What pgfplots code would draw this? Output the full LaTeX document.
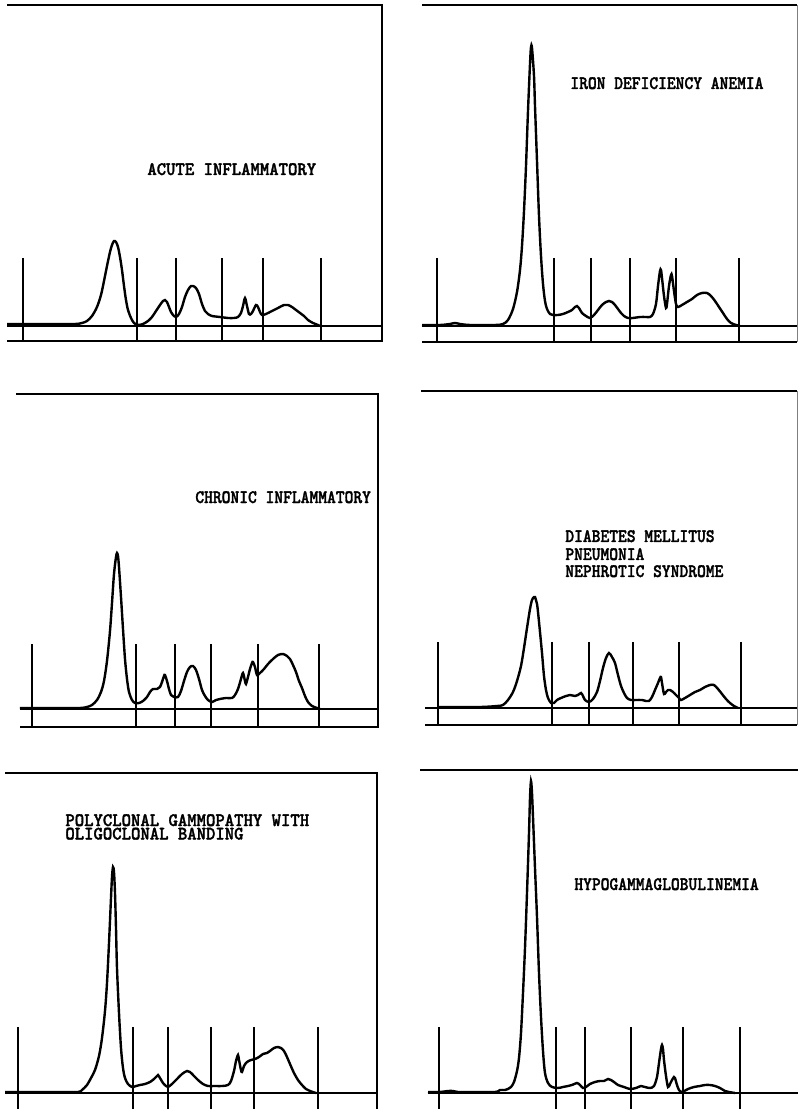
\documentclass[border=0pt]{standalone}
\usepackage{pgfplots}
\pgfplotsset{compat=1.18}
\usepackage{fontspec}
% typewriter captions, two pitches
\newfontfamily\typeA[FakeStretch=0.94, FakeBold=1.6]{lmmonolt10-bold.otf}
\newfontfamily\typeB[FakeStretch=0.88, FakeBold=1.6]{lmmonolt10-bold.otf}

\pgfplotsset{
  panel/.style={hide axis, x=0.5bp, y=0.5bp, clip=false, anchor=south west},
}
\tikzset{
  frame/.style={line width=0.9bp, black},
  trace/.style={line width=1.2bp, black, smooth, tension=0.5, mark=none},
  typed/.style={inner sep=0pt, anchor=base west, font=\fontsize{9.5bp}{9.5bp}\selectfont},
}

\begin{document}
\begin{tikzpicture}
\useasboundingbox (0,0) rectangle (399bp,554.5bp);

% ---------------- acute inflammatory ----------------
\begin{axis}[panel, at={(3.5bp,384bp)}, xmin=7, xmax=382, ymin=-15, ymax=321]
\addplot[trace] table {
7 2
50 2
75 2
82 3
87 5
92 10
97 19
101 31
104 45
107 60
110 74
112 81
114 85
116 84
118 79
120 69
122 56
124 40
126 26
128 16
131 8
134 3
138 1
143 2
148 5
152 9
156 15
160 21
163 25
165 26
167 24
169 19
171 14
173 11
176 9
179 12
182 19
185 29
188 36
191 40
193 40
196 38
199 32
202 22
205 15
208 12
212 10
220 9
228 8
234 8
238 9
241 13
243 20
245 28
247 20
249 12
251 12
253 15
256 21
258 19
260 14
262 11
266 12
272 15
278 18
284 21
288 21
292 19
296 16
300 13
304 10
308 6
313 3
318 1
320 0
};
\draw[frame] (axis cs:7,321) -- (axis cs:382,321) -- (axis cs:382,-15) -- (axis cs:7,-15);
\draw[frame] (axis cs:7,0) -- (axis cs:382,0);
\pgfplotsinvokeforeach{23,137,176,222,263,321}{\draw[frame] (axis cs:#1,68) -- (axis cs:#1,-15);}
\node[typed] at (axis cs:147,151) {\typeA ACUTE INFLAMMATORY};
\end{axis}

% ---------------- iron deficiency anemia ----------------
\begin{axis}[panel, at={(211bp,383.5bp)}, xmin=422, xmax=797, ymin=-16, ymax=321]
\addplot[trace] table {
422 1
440 1
450 2
455 3
460 2
470 1
495 1
503 2
508 6
513 17
517 34
520 56
522 80
524 115
526 160
528 215
530 262
531 279
532 278
534 250
535 220
537 165
539 110
541 70
543 42
545 25
547 17
550 12
553 11
558 11
563 12
568 14
572 16
575 19
577 20
579 18
582 13
586 10
590 8
594 11
598 16
602 21
606 24
609 25
612 24
615 21
618 17
621 13
624 10
628 8
633 8
640 9
646 9
650 9
653 12
656 22
658 40
660 55
661 56
662 48
664 30
666 18
667 22
669 40
671 51
672 50
674 35
676 22
678 19
682 21
687 24
692 27
697 31
702 33
707 33
711 30
715 25
719 19
723 13
727 7
731 3
736 1
740 0
};
\draw[frame] (axis cs:422,321) -- (axis cs:797,321);
\draw[frame, line width=0.5bp, gray] (axis cs:797,321) -- (axis cs:797,-16);
\draw[frame] (axis cs:422,-16) -- (axis cs:797,-16);
\draw[frame] (axis cs:422,0) -- (axis cs:797,0);
\pgfplotsinvokeforeach{437,554,591,630,676,739}{\draw[frame] (axis cs:#1,68) -- (axis cs:#1,-16);}
\node[typed] at (axis cs:570,237) {\typeB IRON DEFICIENCY ANEMIA};
\end{axis}

% ---------------- chronic inflammatory ----------------
\begin{axis}[panel, at={(8bp,191bp)}, xmin=16, xmax=378, ymin=-18, ymax=315]
\addplot[trace] table {
20 1
60 1
80 1
87 2
92 4
97 9
101 17
104 28
107 48
110 78
112 106
114 135
116 152
117 156
118 153
119 142
121 112
123 80
125 50
127 30
129 17
132 9
135 6
139 6
143 8
147 12
150 17
153 20
157 20
160 22
162 27
164 33
165 34
167 28
169 20
171 14
174 12
178 12
181 18
184 28
187 37
190 42
193 43
196 39
199 30
202 19
205 13
208 9
212 7
216 9
220 10
226 11
232 11
235 14
238 20
241 30
243 36
245 28
246 25
248 32
250 40
252 46
253 47
255 42
257 34
260 36
264 40
268 45
273 50
278 54
283 55
287 53
290 50
293 44
296 37
299 28
302 21
305 13
308 7
312 3
317 1
320 0
};
\draw[frame] (axis cs:16,315) -- (axis cs:378,315) -- (axis cs:378,-18) -- (axis cs:20,-18);
\draw[frame] (axis cs:20,0) -- (axis cs:378,0);
\pgfplotsinvokeforeach{32,136,175,211,258,319}{\draw[frame] (axis cs:#1,65) -- (axis cs:#1,-18);}
\node[typed] at (axis cs:195,206) {\typeB CHRONIC INFLAMMATORY};
\end{axis}

% ---------------- diabetes / pneumonia / nephrotic ----------------
\begin{axis}[panel, at={(210.5bp,192bp)}, xmin=421, xmax=797, ymin=-17, ymax=317]
\addplot[trace] table {
438 1
480 1
497 2
503 3
508 8
513 16
517 27
521 42
524 60
527 80
530 99
532 108
534 111
535 111
537 104
538 96
540 76
542 55
544 32
546 18
548 10
551 5
554 5
557 8
561 10
566 12
570 13
575 12
578 13
581 15
583 12
585 8
589 6
593 9
597 16
600 27
603 40
606 50
609 55
612 51
615 45
618 33
621 22
624 15
627 10
631 8
636 8
642 8
646 7
649 7
652 11
655 18
658 25
660 30
661 31
662 25
664 14
666 16
668 18
670 18
673 16
676 13
679 10
681 8
685 10
690 13
695 16
700 18
705 21
710 23
714 23
718 19
722 14
726 9
730 5
734 2
738 0
};
\draw[frame] (axis cs:421,317) -- (axis cs:797,317);
\draw[frame, line width=0.5bp, gray] (axis cs:797,317) -- (axis cs:797,-17);
\draw[frame] (axis cs:425,-17) -- (axis cs:797,-17);
\draw[frame] (axis cs:425,0) -- (axis cs:797,0);
\pgfplotsinvokeforeach{438,552,589,633,679,741}{\draw[frame] (axis cs:#1,66) -- (axis cs:#1,-17);}
\node[typed] at (axis cs:565,166) {\typeB DIABETES MELLITUS};
\node[typed] at (axis cs:565,148) {\typeB PNEUMONIA};
\node[typed] at (axis cs:565,131) {\typeB NEPHROTIC SYNDROME};
\end{axis}

% ---------------- polyclonal gammopathy ----------------
\begin{axis}[panel, at={(2.5bp,0bp)}, xmin=5, xmax=377, ymin=-16, ymax=320]
\addplot[trace] table {
5 1
60 1
78 1
82 3
87 8
91 15
95 23
99 37
102 55
105 82
107 110
109 150
111 195
112 216
113 226
114 221
115 200
116 165
117 125
119 80
121 45
123 25
125 15
128 9
132 6
136 7
140 8
145 9
150 11
154 14
157 17
158 18
160 15
163 10
166 7
168 6
172 9
177 14
182 19
187 22
190 21
194 17
198 13
203 9
208 7
214 7
222 7
228 8
231 12
234 22
236 32
238 38
239 33
241 23
242 21
244 27
247 31
251 33
255 34
259 36
263 39
267 40
270 42
274 45
278 46
281 45
284 42
287 36
290 29
294 20
298 13
302 8
306 4
310 2
316 0
};
\draw[frame] (axis cs:5,320) -- (axis cs:377,320) -- (axis cs:377,-16);
\draw[frame] (axis cs:5,0) -- (axis cs:377,0);
\pgfplotsinvokeforeach{18,133,168,211,254,318}{\draw[frame] (axis cs:#1,66) -- (axis cs:#1,-16);}
% two-line caption set as one block, tight typewriter line feed
\node[typed, align=left, font=\fontsize{9.5bp}{6.75bp}\selectfont] at (axis cs:65,253.5)
  {\typeA POLYCLONAL GAMMOPATHY WITH\\\typeA OLIGOCLONAL BANDING};
\end{axis}

% ---------------- hypogammaglobulinemia ----------------
\begin{axis}[panel, at={(210bp,0bp)}, xmin=420, xmax=798, ymin=-16, ymax=323]
\addplot[trace] table {
428 1
440 1
448 2
453 2
458 1
470 1
495 1
500 3
505 3
508 4
511 6
514 11
517 22
519 35
521 60
523 100
525 145
527 200
529 260
530 295
531 312
532 300
533 276
535 225
537 176
539 120
541 76
543 42
545 20
548 10
552 6
558 5
563 6
568 7
572 8
577 10
580 8
583 5
586 6
590 9
595 11
600 12
604 12
608 14
611 13
614 11
618 8
624 6
630 4
636 5
641 7
645 6
650 5
654 7
657 16
659 30
661 44
662 48
663 44
664 33
666 17
668 6
670 9
672 13
674 16
675 15
677 8
679 3
682 1
688 4
694 6
700 7
705 8
710 8
715 7
720 5
725 2
729 1
735 0
};
\draw[frame] (axis cs:420,323) -- (axis cs:798,323);
\draw[frame] (axis cs:428,0) -- (axis cs:798,0);
\pgfplotsinvokeforeach{439,556,585,631,683,740}{\draw[frame] (axis cs:#1,66) -- (axis cs:#1,-16);}
\node[typed] at (axis cs:574,203) {\typeB HYPOGAMMAGLOBULINEMIA};
\end{axis}
\end{tikzpicture}
\end{document}
